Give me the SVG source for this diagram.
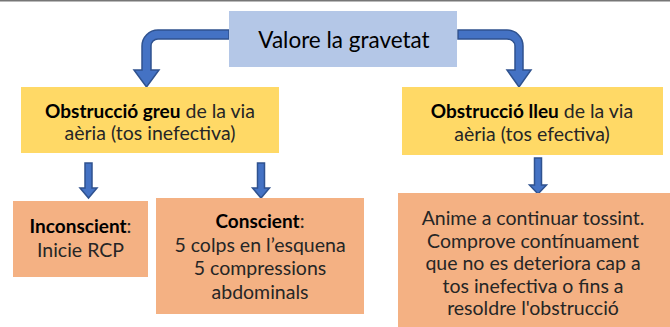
<svg xmlns="http://www.w3.org/2000/svg" width="670" height="327" viewBox="0 0 670 327">
<style>
text{font-family:Lato,"Open Sans","Liberation Sans",sans-serif;fill:#262626;text-anchor:middle}
.b{font-weight:bold;fill:#000;font-size:19px}
.t{font-size:22.5px;fill:#000}
.y{font-size:19.5px}
.o{font-size:19.5px}
.arr{fill:#4472c4;stroke:#2f528f;stroke-width:1.5;stroke-linejoin:miter}
</style>
<rect x="0" y="0" width="670" height="327" fill="#fff"/>
<rect x="0" y="0" width="670" height="1.5" fill="#767676"/>
<g id="connectors">
<path class="arr" d="M229,30 L158,30 A16,16 0 0 0 142,46 L142,70 L134,70 L146.5,87 L159,70 L151,70 L151,46 A7,7 0 0 1 158,39 L229,39 Z"/>
<path class="arr" d="M458,30 L507,30 A16,16 0 0 1 523,46 L523,70 L531,70 L519,87 L507,70 L515,70 L515,46 A8,7 0 0 0 507,39 L458,39 Z"/>
<path class="arr" d="M85,163 L92,163 L92,188 L97,188 L88.5,198 L80,188 L85,188 Z"/>
<path class="arr" d="M257.5,163 L264.5,163 L264.5,188 L269.5,188 L261,198 L252.5,188 L257.5,188 Z"/>
<path class="arr" d="M534.5,158 L541.5,158 L541.5,185 L546.5,185 L538,194 L529.5,185 L534.5,185 Z"/>
</g>
<g id="top">
<rect x="229" y="11" width="228" height="56" fill="#b4c7e7"/>
<text class="t" x="344" y="48">Valore la gravetat</text>
</g>
<g id="greu">
<rect x="21" y="87" width="258" height="66" fill="#ffd966"/>
<text class="y" x="150" y="118"><tspan class="b">Obstrucció greu</tspan> de la via</text>
<text class="y" x="150" y="140">aèria (tos inefectiva)</text>
</g>
<g id="lleu">
<rect x="402" y="87" width="261" height="68" fill="#ffd966"/>
<text class="y" x="532" y="118"><tspan class="b">Obstrucció lleu</tspan> de la via</text>
<text class="y" x="532" y="141">aèria (tos efectiva)</text>
</g>
<g id="inconscient">
<rect x="13" y="201" width="135" height="76" fill="#f4b183"/>
<text class="o" x="80.5" y="233"><tspan class="b">Inconscient</tspan>:</text>
<text class="o" x="80.5" y="257">Inicie RCP</text>
</g>
<g id="conscient">
<rect x="156" y="198" width="208" height="116" fill="#f4b183"/>
<text class="o" x="260" y="228"><tspan class="b">Conscient</tspan>:</text>
<text class="o" x="260" y="252">5 colps en l’esquena</text>
<text class="o" x="260" y="275">5 compressions</text>
<text class="o" x="260" y="299">abdominals</text>
</g>
<g id="lleu-action">
<rect x="398" y="193" width="272" height="134" fill="#f4b183"/>
<text class="o" x="533" y="225">Anime a continuar tossint.</text>
<text class="o" x="533" y="247.5">Comprove contínuament</text>
<text class="o" x="533" y="270">que no es deteriora cap a</text>
<text class="o" x="533" y="292.5">tos inefectiva o fins a</text>
<text class="o" x="533" y="315">resoldre l'obstrucció</text>
</g>
</svg>
